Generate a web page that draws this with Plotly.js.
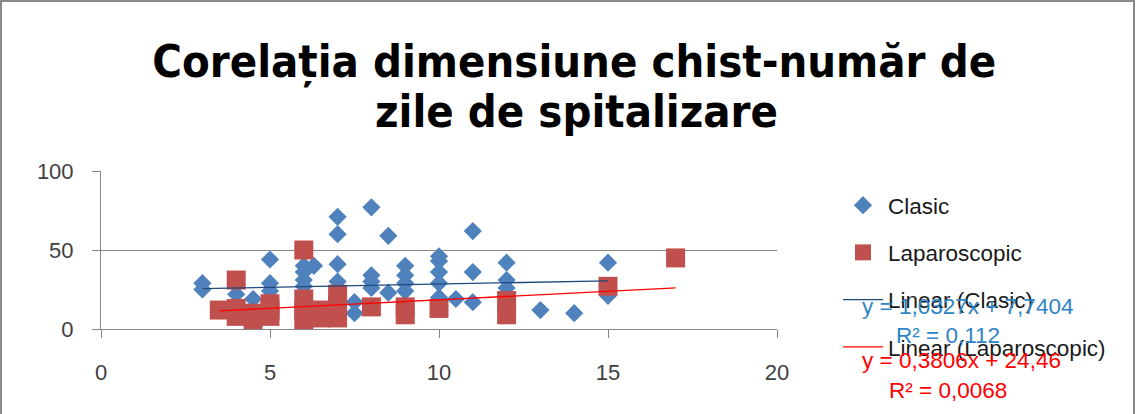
<!DOCTYPE html>
<html>
<head>
<meta charset="utf-8">
<script src="https://cdn.plot.ly/plotly-3.0.1.min.js"></script>
<style>
  html, body { margin: 0; padding: 0; background: #fff; }
  #wrap { position: relative; width: 1137px; height: 414px; overflow: hidden; }
  #chart { width: 1137px; height: 414px; }
  #frame { position: absolute; left: 0; top: 0; width: 1131px; height: 420px;
           border: 2px solid #8a8a8a; pointer-events: none; }
</style>
</head>
<body>
<div id="wrap"><div id="chart"></div><div id="frame"></div></div>
<script>
// Data
const clasicX = [3,3,4,4,4.5,5,5,5,5,6,6,6,6,6,6.3,7,7,7,7,7.5,7.5,8,8,8,8,8.5,8.5,9,9,9,9,10,10,10,10,10,10.5,11,11,11,12,12,12,13,14,15,15,15];
const clasicY = [29,25,28,22,19,44,29,24,20,40,36,31,27,22,40,71,60,41,30,17,10,77,34,30,26,59,23,40,34,29,24,46,43,36,29,20,19,62,36,17,42,31,26,12,10,42,26,21];

const lapX = [3.5,4,4,4,4.5,4.5,5,5,5,6,6,6,6,6.5,6.5,7,7,7,8,9,9,10,12,12,15,17];
const lapY = [12,31,13,8,4,10,16,12,8,50,19,12,6,12,7,22,15,7,14,14,9,13,18,9,27,45];

// Trend lines as drawn in the reference
const clasicTrendX = [3, 15];
const clasicTrendY = [25.5, 30.5];
const lapTrendX = [3.5, 17];
const lapTrendY = [11.5, 26];

const seriesNames = ["Clasic", "Laparoscopic", "Linear (Clasic)", "Linear (Laparoscopic)"];
const equationTexts = ["y = 1,0327x + 7,7404", "R² = 0,112", "y = 0,3806x + 24,46", "R² = 0,0068"];
const titleLines = ["Corelația dimensiune chist-număr de", "zile de spitalizare"];
const xTicks = [0, 5, 10, 15, 20];
const yTicks = [0, 50, 100];

const FONT = '"Liberation Sans", Arial, sans-serif';
const TITLEFONT = '"DejaVu Sans Condensed", "Liberation Sans", Arial, sans-serif';

// plot-area geometry helpers (pixels -> paper fractions) for text labels
const PL = 101, PW = 676, PB = 329, PH = 158;
const px = v => (v - PL) / PW;
const py = v => (PB - v) / PH;

const traces = [
  { x: clasicX, y: clasicY, type: 'scatter', mode: 'markers', name: seriesNames[0],
    legendgroup: 'a',
    marker: { symbol: 'diamond', size: 14, color: '#4F81BD', line: { width: 0 } } },
  { x: lapX, y: lapY, type: 'scatter', mode: 'markers', name: seriesNames[1],
    legendgroup: 'b',
    marker: { symbol: 'square', size: 19, color: '#C0504D', line: { width: 0 } } },
  { x: clasicTrendX, y: clasicTrendY, type: 'scatter', mode: 'lines', name: seriesNames[2],
    legendgroup: 'c',
    line: { color: '#1F497D', width: 1.3 } },
  { x: lapTrendX, y: lapTrendY, type: 'scatter', mode: 'lines', name: seriesNames[3],
    legendgroup: 'd',
    line: { color: '#FF0000', width: 1.3 } }
];

const layout = {
  width: 1137, height: 414,
  margin: { l: PL, r: 1137 - PL - PW, t: PB - PH, b: 414 - PB },
  paper_bgcolor: '#ffffff', plot_bgcolor: '#ffffff',
  font: { family: FONT, color: '#404040', size: 22 },
  title: {
    text: titleLines[0],
    font: { family: TITLEFONT, size: 45, color: '#000000', weight: 'bold' },
    x: 0.505, xanchor: 'center', xref: 'container',
    y: 1 - 61 / 414, yanchor: 'middle', yref: 'container'
  },
  xaxis: {
    range: [0, 20], tickvals: xTicks, ticktext: xTicks.map(String),
    showgrid: false, zeroline: false,
    showline: true, linecolor: '#868686', linewidth: 1,
    ticks: 'outside', ticklen: 8, tickcolor: '#868686', tickwidth: 1,
    ticklabelstandoff: 16,
    tickfont: { family: FONT, size: 22, color: '#404040' },
    fixedrange: true
  },
  yaxis: {
    range: [0, 100], tickvals: yTicks, ticktext: yTicks.map(String),
    showgrid: true, gridcolor: '#868686', gridwidth: 1, zeroline: false,
    showline: true, linecolor: '#868686', linewidth: 1,
    ticks: 'outside', ticklen: 8, tickcolor: '#868686', tickwidth: 1,
    ticklabelstandoff: 14,
    tickfont: { family: FONT, size: 22, color: '#404040' },
    fixedrange: true
  },
  showlegend: true,
  legend: {
    xref: 'container', yref: 'container',
    x: 838 / 1137, xanchor: 'left',
    y: 1 - 184 / 414, yanchor: 'top',
    font: { family: FONT, size: 22.5, color: '#1a1a1a' },
    tracegroupgap: 15, itemwidth: 40,
    bgcolor: 'rgba(0,0,0,0)', borderwidth: 0
  },
  annotations: [
    { text: titleLines[1], xref: 'paper', yref: 'paper',
      x: px(576), xanchor: 'center', y: py(111), yanchor: 'middle',
      showarrow: false,
      font: { family: TITLEFONT, size: 45, color: '#000000', weight: 'bold' } },
    { text: equationTexts[0], xref: 'paper', yref: 'paper',
      x: px(967), xanchor: 'center', y: py(306), yanchor: 'middle',
      showarrow: false, font: { family: FONT, size: 22.5, color: '#2E84C6' } },
    { text: equationTexts[1], xref: 'paper', yref: 'paper',
      x: px(948), xanchor: 'center', y: py(335), yanchor: 'middle',
      showarrow: false, font: { family: FONT, size: 22.5, color: '#2E84C6' } },
    { text: equationTexts[2], xref: 'paper', yref: 'paper',
      x: px(962), xanchor: 'center', y: py(360), yanchor: 'middle',
      showarrow: false, font: { family: FONT, size: 22.5, color: '#FF0000' } },
    { text: equationTexts[3], xref: 'paper', yref: 'paper',
      x: px(948), xanchor: 'center', y: py(390), yanchor: 'middle',
      showarrow: false, font: { family: FONT, size: 22.5, color: '#FF0000' } }
  ]
};

Plotly.newPlot('chart', traces, layout, { displayModeBar: false, staticPlot: true });
</script>
</body>
</html>
